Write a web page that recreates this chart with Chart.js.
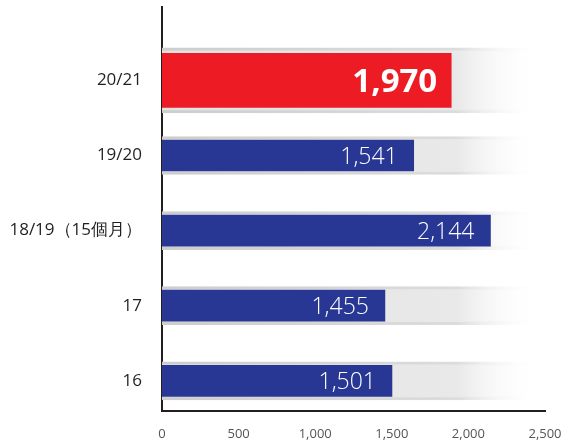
<!DOCTYPE html>
<html>
<head>
<meta charset="utf-8">
<script src="https://cdn.jsdelivr.net/npm/chart.js@4/dist/chart.umd.min.js"></script>
<style>
  body { margin: 0; background: #fff; }
  #wrap { width: 563px; height: 448px; position: relative; }
</style>
</head>
<body>
<div id="wrap"><canvas id="canvas1"></canvas></div>
<script>
const canvas1 = document.getElementById('canvas1');

// data
const categories = ['20/21', '19/20', '18/19（15個月）', '17', '16'];
const barValues = [1888, 1643, 2144, 1455, 1501];
const valueLabels = ['1,970', '1,541', '2,144', '1,455', '1,501'];
const xTicks = [0, 500, 1000, 1500, 2000, 2500];
const highlight = 0;          // index of the red bar
const trackEnd = 2470;        // grey fading band behind each bar

const redPoints = barValues.map((v, i) => ({x: v, y: i})).filter(p => p.y === highlight);
const bluePoints = barValues.map((v, i) => ({x: v, y: i})).filter(p => p.y !== highlight);
const redTrack = redPoints.map(p => ({x: trackEnd, y: p.y}));
const blueTrack = bluePoints.map(p => ({x: trackEnd, y: p.y}));

function trackGradient(ctx, c0, c1) {
    const chart = ctx.chart;
    const area = chart.chartArea;
    if (!area) return c0;
    const end = chart.scales.x.getPixelForValue(trackEnd);
    const g = chart.ctx.createLinearGradient(area.left, 0, end, 0);
    g.addColorStop(0, c0);
    g.addColorStop(0.78, c1);
    g.addColorStop(1, 'rgba(255,255,255,0)');
    return g;
}

const trackStyle = {
    backgroundColor: ctx => trackGradient(ctx, '#e2e2e2', '#e9e9e9'),
    borderColor: ctx => trackGradient(ctx, '#cdcdcd', '#dcdcdc'),
    borderWidth: {top: 3, bottom: 3, left: 0, right: 0},
    borderSkipped: false,
    grouped: false,
    order: 2
};

const valueLabelPlugin = {
    id: 'valueLabels',
    afterDatasetsDraw(chart) {
        const ctx = chart.ctx;
        [0, 1].forEach(di => {
            const meta = chart.getDatasetMeta(di);
            meta.data.forEach((bar, k) => {
                const idx = chart.data.datasets[di].data[k].y;
                ctx.save();
                ctx.fillStyle = '#ffffff';
                ctx.textAlign = 'right';
                ctx.textBaseline = 'middle';
                if (idx === highlight) {
                    ctx.font = 'bold 33px "Open Sans"';
                    ctx.fillText(valueLabels[idx], bar.x - 14, bar.y + 2);
                } else {
                    ctx.font = '300 23px "Open Sans"';
                    ctx.fillText(valueLabels[idx], bar.x - 16, bar.y + 2);
                }
                ctx.restore();
            });
        });
    }
};

new Chart(canvas1, {
    type: 'bar',
    data: {
        datasets: [
            { data: redPoints, backgroundColor: '#ED1C24', barThickness: 54, grouped: false, order: 1 },
            { data: bluePoints, backgroundColor: '#283793', barThickness: 31, grouped: false, order: 1 },
            Object.assign({ data: redTrack, barThickness: 65 }, trackStyle),
            Object.assign({ data: blueTrack, barThickness: 38 }, trackStyle)
        ]
    },
    options: {
        indexAxis: 'y',
        responsive: true,
        maintainAspectRatio: false,
        animation: false,
        layout: {
            padding: { top: 7, right: 18, left: 0, bottom: 0 }
        },
        scales: {
            x: {
                type: 'linear',
                position: 'bottom',
                min: 0,
                max: 2500,
                afterBuildTicks: s => { s.ticks = xTicks.map(v => ({value: v})); },
                afterFit: s => { s.height = 37; s.paddingLeft = 0; s.paddingRight = 0; },
                grid: { display: false },
                border: { display: true, color: '#231f20', width: 2 },
                ticks: {
                    padding: 7,
                    color: '#555555',
                    font: { size: 13, family: 'Open Sans' },
                    callback: v => v.toLocaleString('en-US')
                }
            },
            y: {
                type: 'linear',
                reverse: true,
                offset: false,
                min: -0.977,
                max: 4.402,
                afterBuildTicks: s => { s.ticks = categories.map((c, i) => ({value: i})); },
                afterFit: s => { s.width = 162; s.paddingTop = 0; s.paddingBottom = 0; },
                grid: { display: false },
                border: { display: true, color: '#231f20', width: 2 },
                ticks: {
                    padding: 12,
                    color: '#231f20',
                    font: { size: 17, family: 'Open Sans' },
                    callback: v => categories[v]
                }
            }
        },
        plugins: {
            legend: { display: false },
            tooltip: { enabled: false }
        }
    },
    plugins: [valueLabelPlugin]
});
</script>
</body>
</html>
